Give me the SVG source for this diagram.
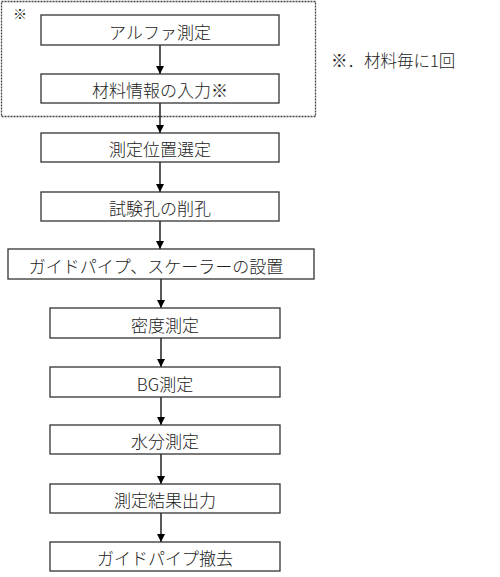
<svg xmlns="http://www.w3.org/2000/svg" width="500" height="577" viewBox="0 0 500 577">
<style>
.box{fill:#fff;stroke:#333;stroke-width:1.3}
.t{font-family:"Noto Sans CJK JP","Noto Sans",sans-serif;font-size:17px;fill:#222;text-anchor:middle;dominant-baseline:central;font-weight:300}
.c{stroke:#000;stroke-width:1.3;fill:none;marker-end:url(#ah)}
</style>
<defs>
<marker id="ah" viewBox="0 0 10 10" refX="10" refY="5" markerWidth="8" markerHeight="8" markerUnits="userSpaceOnUse" orient="auto">
<path d="M0,0 L10,5 L0,10 Z" fill="#000"/>
</marker>
</defs>
<rect width="500" height="577" fill="#fff"/>
<g id="group-material">
<rect x="1.5" y="1.5" width="314" height="115" fill="none" stroke="#444" stroke-width="1.3" stroke-dasharray="2,1"/>
<text x="20" y="13" class="t" style="font-size:14px">※</text>
</g>
<g id="note"><text x="331" y="60" style="font-family:'Noto Sans CJK JP',sans-serif;font-size:16.5px;fill:#222;dominant-baseline:central;font-weight:300">※．材料毎に1回</text></g>
<g id="connectors">
<line class="c" x1="160" y1="45" x2="160" y2="74"/>
<line class="c" x1="160" y1="103" x2="160" y2="133"/>
<line class="c" x1="160" y1="162" x2="160" y2="192"/>
<line class="c" x1="160" y1="221" x2="160" y2="249"/>
<line class="c" x1="161" y1="279" x2="161" y2="308"/>
<line class="c" x1="161" y1="338" x2="161" y2="367"/>
<line class="c" x1="161" y1="397" x2="161" y2="425"/>
<line class="c" x1="161" y1="454" x2="161" y2="484"/>
<line class="c" x1="161" y1="513" x2="161" y2="542"/>
</g>
<g id="n1"><rect class="box" x="41" y="15" width="238" height="30"/><text class="t" x="160" y="31">アルファ測定</text></g>
<g id="n2"><rect class="box" x="41" y="74" width="238" height="29"/><text class="t" x="160" y="89">材料情報の入力※</text></g>
<g id="n3"><rect class="box" x="41" y="133" width="238" height="29"/><text class="t" x="160" y="148">測定位置選定</text></g>
<g id="n4"><rect class="box" x="41" y="192" width="238" height="29"/><text class="t" x="160" y="207">試験孔の削孔</text></g>
<g id="n5"><rect class="box" x="8" y="249" width="306" height="30"/><text class="t" x="156" y="265">ガイドパイプ、スケーラーの設置</text></g>
<g id="n6"><rect class="box" x="50" y="308" width="230" height="30"/><text class="t" x="165" y="324">密度測定</text></g>
<g id="n7"><rect class="box" x="50" y="367" width="230" height="30"/><text class="t" x="165" y="383">BG測定</text></g>
<g id="n8"><rect class="box" x="50" y="425" width="230" height="29"/><text class="t" x="165" y="440">水分測定</text></g>
<g id="n9"><rect class="box" x="50" y="484" width="230" height="29"/><text class="t" x="165" y="499">測定結果出力</text></g>
<g id="n10"><rect class="box" x="50" y="542" width="230" height="29"/><text class="t" x="165" y="557">ガイドパイプ撤去</text></g>
</svg>
